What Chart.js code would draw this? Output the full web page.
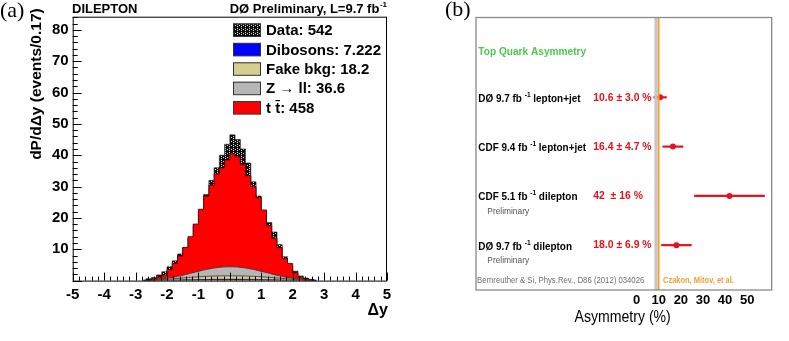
<!DOCTYPE html>
<html>
<head>
<meta charset="utf-8">
<script src="https://cdn.jsdelivr.net/npm/chart.js@4.4.1/dist/chart.umd.min.js"></script>
<style>
  html, body { margin: 0; padding: 0; background: #fff; }
  #wrap { position: relative; width: 789px; height: 341px; overflow: hidden; }
  #leftChart { position: absolute; left: 0; top: 0; }
  #rightChart { position: absolute; left: 440px; top: 0; }
</style>
</head>
<body>
<div id="wrap">
  <canvas id="leftChart" width="400" height="341"></canvas>
  <canvas id="rightChart" width="349" height="341"></canvas>
</div>
<script>
// ---- panel (a): delta-y distribution, bins of 1/6 ----
const binCenters = [-2.750, -2.583, -2.417, -2.250, -2.083, -1.917, -1.750, -1.583, -1.417, -1.250,
  -1.083, -0.917, -0.750, -0.583, -0.417, -0.250, -0.083, 0.083, 0.250, 0.417,
  0.583, 0.750, 0.917, 1.083, 1.250, 1.417, 1.583, 1.750, 1.917, 2.083,
  2.250, 2.417, 2.583, 2.750];
const dataCounts = [0.2, 0.6, 1.0, 1.8, 2.8, 4.4, 6.3, 8.5, 10.5, 13.5,
  17.5, 22.5, 27.5, 32, 36, 40, 43.5, 46.5, 45, 42,
  37.5, 31.5, 27, 22, 18.5, 15.5, 11.5, 7.6, 4.8, 3,
  1.5, 0.8, 0.4, 0.2];
const dibosonVals = [0, 0.02, 0.04, 0.07, 0.1, 0.13, 0.17, 0.2, 0.24, 0.27,
  0.3, 0.33, 0.36, 0.38, 0.39, 0.4, 0.4, 0.4, 0.4, 0.39,
  0.38, 0.36, 0.33, 0.3, 0.27, 0.24, 0.2, 0.17, 0.13, 0.1,
  0.07, 0.04, 0.02, 0];
const fakeVals = [0, 0.05, 0.1, 0.18, 0.27, 0.36, 0.46, 0.56, 0.66, 0.76,
  0.85, 0.93, 1.0, 1.05, 1.09, 1.11, 1.12, 1.12, 1.11, 1.09,
  1.05, 1.0, 0.93, 0.85, 0.76, 0.66, 0.56, 0.46, 0.36, 0.27,
  0.18, 0.1, 0.05, 0];
const zllVals = [0, 0.03, 0.08, 0.15, 0.25, 0.38, 0.55, 0.75, 1.0, 1.3,
  1.6, 1.9, 2.2, 2.45, 2.65, 2.8, 2.88, 2.88, 2.8, 2.65,
  2.45, 2.2, 1.9, 1.6, 1.3, 1.0, 0.75, 0.55, 0.38, 0.25,
  0.15, 0.08, 0.03, 0];
const ttbarVals = [0.05, 0.2, 0.4, 0.8, 1.2, 2.7, 4.3, 6.3, 8.7, 11.7,
  15.3, 19.6, 23.4, 26.6, 29.9, 31.7, 34.1, 36.1, 35.2, 32.9,
  29.6, 26.4, 23.3, 19.8, 15.2, 11.6, 9.0, 5.8, 4.6, 1.9,
  0.8, 0.4, 0.2, 0.05];
const legendNames = ['Data', 'Dibosons', 'Fake bkg', 'Z \u2192 ll', 't t\u0304'];
const legendYields = ['542', '7.222', '18.2', '36.6', '458'];
const xTicksLeft = [-5, -4, -3, -2, -1, 0, 1, 2, 3, 4, 5];
const yTicksLeft = [10, 20, 30, 40, 50, 60, 70, 80];

// ---- panel (b): asymmetry summary ----
const expNames = ['D\u00d8 9.7 fb', 'CDF 9.4 fb', 'CDF 5.1 fb', 'D\u00d8 9.7 fb'];
const channels = ['lepton+jet', 'lepton+jet', 'dilepton', 'dilepton'];
const preliminary = [false, false, true, true];
const asymValues = [10.6, 16.4, 42, 18.0];
const asymErrors = [3.0, 4.7, 16, 6.9];
const asymText = ['10.6 \u00b1 3.0 %', '16.4 \u00b1 4.7 %', '42  \u00b1 16 %', '18.0 \u00b1 6.9 %'];
const rowPos = [1, 2, 3, 4];
const bernreutherPred = 8.7;
const czakonPred = 9.9;
const xTicksRight = [0, 10, 20, 30, 40, 50];

Chart.defaults.font.family = "'Liberation Sans', Arial, sans-serif";
Chart.defaults.color = '#000';

function pts(vals) {
  return vals.map((v, i) => ({ x: binCenters[i], y: v }));
}

function makeHatch() {
  const c = document.createElement('canvas');
  c.width = 4; c.height = 4;
  const g = c.getContext('2d');
  g.fillStyle = '#0e0e0e';
  g.fillRect(0, 0, 4, 4);
  g.fillStyle = '#e0e0e0';
  g.fillRect(1, 0, 1, 1);
  g.fillRect(1, 2, 1, 1);
  g.fillRect(3, 1, 1, 1);
  return g.createPattern(c, 'repeat');
}

function txt(ctx, s, x, y, font, color, align, sx) {
  ctx.save();
  ctx.font = font;
  ctx.fillStyle = color;
  ctx.textAlign = align || 'left';
  ctx.textBaseline = 'middle';
  ctx.translate(x, y);
  ctx.scale(sx || 1, 1);
  ctx.fillText(s, 0, 0);
  const w = ctx.measureText(s).width * (sx || 1);
  ctx.restore();
  return w;
}

const leftDecor = {
  id: 'leftDecor',
  afterDraw(chart) {
    const ctx = chart.ctx, a = chart.chartArea;
    const xs = chart.scales.x, ys = chart.scales.y;
    ctx.save();
    ctx.strokeStyle = '#000';
    ctx.lineWidth = 1;
    ctx.strokeRect(a.left + 0.5, a.top + 0.5, a.right - a.left - 1, a.bottom - a.top);
    // inward ticks
    ctx.beginPath();
    for (let v = -5; v <= 5.001; v += 0.2) {
      const px = Math.round(xs.getPixelForValue(v)) + 0.5;
      const major = Math.abs(v - Math.round(v)) < 0.01;
      ctx.moveTo(px, a.bottom);
      ctx.lineTo(px, a.bottom - (major ? 8 : 4));
    }
    for (let v = 0; v <= ys.max; v += 2) {
      const py = Math.round(ys.getPixelForValue(v)) + 0.5;
      ctx.moveTo(a.left, py);
      ctx.lineTo(a.left + (v % 10 === 0 ? 9 : 5), py);
    }
    ctx.stroke();
    ctx.restore();

    // legend
    const order = [4, 0, 1, 2, 3];
    order.forEach((di, i) => {
      const ds = chart.data.datasets[di];
      const cy = 30 + i * 19.4;
      ctx.save();
      ctx.fillStyle = ds.backgroundColor;
      ctx.fillRect(233, cy - 6.5, 28, 13);
      ctx.strokeStyle = '#333';
      ctx.lineWidth = 1;
      ctx.strokeRect(233.5, cy - 6, 27, 12.5);
      ctx.restore();
      txt(ctx, legendNames[i] + ': ' + legendYields[i], 266, cy + 1, 'bold 15px "Liberation Sans", Arial', '#000');
    });

    // headers
    txt(ctx, 'DILEPTON', 72, 9, 'bold 13px "Liberation Sans", Arial', '#000');
    const supW = txt(ctx, '-1', 387, 5, 'bold 8px "Liberation Sans", Arial', '#000', 'right');
    txt(ctx, 'D\u00d8 Preliminary, L=9.7 fb', 387 - supW - 0.5, 9.5, 'bold 13px "Liberation Sans", Arial', '#000', 'right');

    // axis titles
    ctx.save();
    ctx.translate(36.7, 8.3);
    ctx.rotate(-Math.PI / 2);
    txt(ctx, 'dP/d\u0394y (events/0.17)', 0, 0, 'bold 15.5px "Liberation Sans", Arial', '#000', 'right');
    ctx.restore();
    txt(ctx, '\u0394y', 388, 311, 'bold 16px "Liberation Sans", Arial', '#000', 'right');
    txt(ctx, '(a)', 0, 11, '22px "Liberation Serif", "DejaVu Serif", serif', '#000');
  }
};

new Chart(document.getElementById('leftChart'), {
  type: 'line',
  data: {
    datasets: [
      { label: 'Dibosons', data: pts(dibosonVals), backgroundColor: '#0000ff', borderColor: '#222',
        borderWidth: 0.8, fill: 'origin', cubicInterpolationMode: 'monotone' },
      { label: 'Fake bkg', data: pts(fakeVals), backgroundColor: '#d4cf8e', borderColor: '#333',
        borderWidth: 0.8, fill: 'origin', cubicInterpolationMode: 'monotone' },
      { label: 'Z', data: pts(zllVals), backgroundColor: '#b6b6b6', borderColor: '#333',
        borderWidth: 0.8, fill: 'origin', cubicInterpolationMode: 'monotone' },
      { label: 'ttbar', data: pts(ttbarVals), backgroundColor: '#ff0000', borderColor: '#3a0000',
        borderWidth: 0.8, fill: 'origin', stepped: 'middle' },
      { label: 'Data', data: pts(dataCounts), stack: 'data', backgroundColor: makeHatch(),
        borderColor: '#111', borderWidth: 0.6, fill: 'origin', stepped: 'middle' }
    ]
  },
  options: {
    responsive: false,
    animation: false,
    layout: { padding: { top: 16.7, right: 13, left: 0, bottom: 0 } },
    elements: { point: { radius: 0 } },
    plugins: { legend: { display: false }, tooltip: { enabled: false } },
    scales: {
      x: {
        type: 'linear', min: -5, max: 5,
        afterBuildTicks: s => { s.ticks = xTicksLeft.map(v => ({ value: v })); },
        afterFit: s => { s.height = 60.4; },
        grid: { display: false, drawTicks: false },
        border: { display: false },
        ticks: { font: { size: 15, weight: 'bold' }, color: '#000', padding: 5, maxRotation: 0, autoSkip: false }
      },
      y: {
        stacked: true, min: 0, max: 84.2,
        afterBuildTicks: s => { s.ticks = yTicksLeft.map(v => ({ value: v })); },
        afterFit: s => { s.width = 72.7; },
        grid: { display: false, drawTicks: false },
        border: { display: false },
        ticks: { font: { size: 15, weight: 'bold' }, color: '#000', padding: 4 }
      }
    }
  },
  plugins: [leftDecor]
});

const rightDecor = {
  id: 'rightDecor',
  beforeDatasetsDraw(chart) {
    const ctx = chart.ctx, xs = chart.scales.x, ys = chart.scales.y;
    ctx.save();
    ctx.strokeStyle = '#e8101a';
    ctx.lineWidth = 2.2;
    asymValues.forEach((v, i) => {
      const py = ys.getPixelForValue(rowPos[i]);
      ctx.beginPath();
      ctx.moveTo(xs.getPixelForValue(v - asymErrors[i]), py);
      ctx.lineTo(xs.getPixelForValue(v + asymErrors[i]), py);
      ctx.stroke();
    });
    ctx.restore();
  },
  afterDraw(chart) {
    const ctx = chart.ctx, a = chart.chartArea, ys = chart.scales.y;
    ctx.save();
    ctx.strokeStyle = '#8a8a8a';
    ctx.lineWidth = 1.3;
    ctx.strokeRect(a.left, a.top, a.right - a.left, a.bottom - a.top);
    ctx.restore();

    const sx = 0.88;
    const lx = a.left + 2.3;
    txt(ctx, 'Top Quark Asymmetry', lx, 51.5, 'bold 11.5px "Liberation Sans", Arial', '#4cc94c', 'left', sx);
    asymValues.forEach((v, i) => {
      const py = ys.getPixelForValue(rowPos[i]);
      let x = lx;
      x += txt(ctx, expNames[i] + ' ', x, py + 1.5, 'bold 11.3px "Liberation Sans", Arial', '#000', 'left', sx);
      x += txt(ctx, '-1', x, py - 2.5, 'bold 7.5px "Liberation Sans", Arial', '#000', 'left', sx);
      txt(ctx, ' ' + channels[i], x, py + 1.5, 'bold 11.3px "Liberation Sans", Arial', '#000', 'left', sx);
      if (preliminary[i]) {
        txt(ctx, 'Preliminary', lx + 9, py + 15, '9.5px "Liberation Sans", Arial', '#555', 'left', sx);
      }
      txt(ctx, asymText[i], 153.3, py, 'bold 11.8px "Liberation Sans", Arial', '#e8101a', 'left', sx);
    });
    txt(ctx, 'Bernreuther & Si, Phys.Rev., D86 (2012) 034026', a.left + 1, 281, '8.8px "Liberation Sans", Arial', '#6e6e6e', 'left', sx);
    txt(ctx, 'Czakon, Mitov, et al.', 223, 281, 'bold 8.5px "Liberation Sans", Arial', '#f0a030', 'left', sx);
    txt(ctx, 'Asymmetry (%)', 182.7, 318, '16px "Liberation Sans", Arial', '#000', 'center', sx);
    txt(ctx, '(b)', 5, 10, '22px "Liberation Serif", "DejaVu Serif", serif', '#000');
  }
};

const yMinR = -0.62, yMaxR = 4.91;
new Chart(document.getElementById('rightChart'), {
  type: 'scatter',
  data: {
    datasets: [
      { data: [{ x: bernreutherPred, y: yMinR }, { x: bernreutherPred, y: yMaxR }], showLine: true,
        borderColor: '#c6c6c6', borderWidth: 3, pointRadius: 0 },
      { data: [{ x: czakonPred, y: yMinR }, { x: czakonPred, y: yMaxR }], showLine: true,
        borderColor: '#f0a030', borderWidth: 2, pointRadius: 0 },
      { data: asymValues.map((v, i) => ({ x: v, y: rowPos[i] })), pointRadius: 3,
        pointBackgroundColor: '#e8101a', pointBorderWidth: 0 }
    ]
  },
  options: {
    responsive: false,
    animation: false,
    layout: { padding: { left: 36, right: 17.3, top: 17.5, bottom: 0 } },
    plugins: { legend: { display: false }, tooltip: { enabled: false } },
    scales: {
      x: {
        type: 'linear', min: -72.7, max: 61.1,
        afterBuildTicks: s => { s.ticks = xTicksRight.map(v => ({ value: v })); },
        afterFit: s => { s.height = 51; },
        grid: { display: false, drawTicks: false },
        border: { display: false },
        ticks: { font: { size: 13, weight: 'bold' }, color: '#000', padding: 3, maxRotation: 0, autoSkip: false }
      },
      y: { display: false, min: yMinR, max: yMaxR, reverse: true }
    }
  },
  plugins: [rightDecor]
});
</script>
</body>
</html>
